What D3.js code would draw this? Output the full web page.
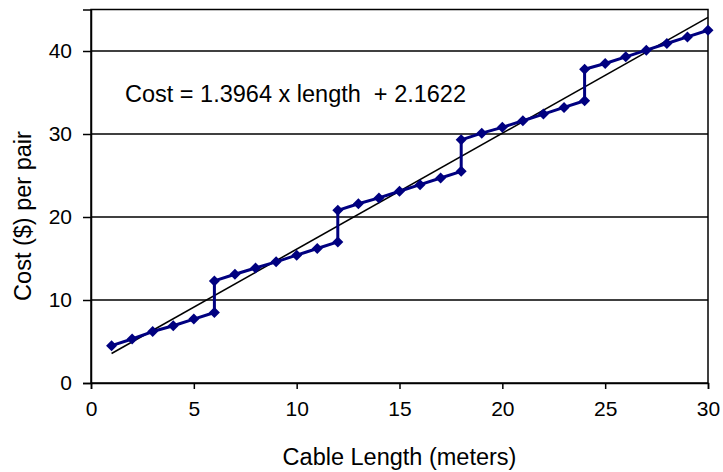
<!DOCTYPE html>
<html>
<head>
<meta charset="utf-8">
<script src="https://cdn.jsdelivr.net/npm/d3@7"></script>
<style>
  html, body { margin: 0; padding: 0; background: #fff; }
  svg { display: block; font-family: "Liberation Sans", Arial, sans-serif; }
</style>
</head>
<body>
<svg id="chart" width="723" height="472"></svg>
<script>
// Cable length (m) and cost per pair ($); the steps at 6, 12, 18, 24 m
// carry two readings each (before and after the jump).
const lengths = [1, 2, 3, 4, 5, 6, 6, 7, 8, 9, 10, 11, 12, 12, 13, 14, 15, 16, 17, 18, 18,
                 19, 20, 21, 22, 23, 24, 24, 25, 26, 27, 28, 29, 30];
const costs   = [4.5, 5.3, 6.2, 6.9, 7.7, 8.5, 12.3, 13.1, 13.85, 14.6, 15.4, 16.2, 17.0, 20.8,
                 21.6, 22.3, 23.1, 23.9, 24.7, 25.5, 29.3, 30.1, 30.8, 31.6, 32.4, 33.2, 34.0,
                 37.8, 38.5, 39.3, 40.1, 40.9, 41.7, 42.5];
const xTicks = [0, 5, 10, 15, 20, 25, 30];
const yTicks = [0, 10, 20, 30, 40];
const slope = 1.3964;
const intercept = 2.1622;
const fitLabel = "Cost = 1.3964 x length  + 2.1622";
const xTitle = "Cable Length (meters)";
const yTitle = "Cost ($) per pair";

const svg = d3.select("#chart");
const plot = { left: 91, right: 708, top: 9.5, bottom: 383 };

const x = d3.scaleLinear().domain([0, 30]).range([plot.left, plot.right]);
const y = d3.scaleLinear().domain([0, 45]).range([plot.bottom, plot.top]);

// horizontal gridlines
svg.append("g")
  .selectAll("line")
  .data(yTicks.filter(d => d > 0))
  .join("line")
  .attr("x1", plot.left).attr("x2", plot.right)
  .attr("y1", d => y(d)).attr("y2", d => y(d))
  .attr("stroke", "#000").attr("stroke-width", 1.3);

// plot frame
svg.append("rect")
  .attr("x", plot.left).attr("y", plot.top)
  .attr("width", plot.right - plot.left).attr("height", plot.bottom - plot.top)
  .attr("fill", "none").attr("stroke", "#000").attr("stroke-width", 1.5);

// axes
const tickFont = 21;
const titleFont = 23.5;
const xAxis = svg.append("g")
  .attr("transform", `translate(0,${plot.bottom})`)
  .call(d3.axisBottom(x).tickValues(xTicks).tickSize(6).tickPadding(12).tickFormat(d3.format("d")));
const yAxis = svg.append("g")
  .attr("transform", `translate(${plot.left},0)`)
  .call(d3.axisLeft(y).tickValues(yTicks).tickSize(8).tickPadding(11).tickFormat(d3.format("d")));
[xAxis, yAxis].forEach(g => {
  g.select(".domain").attr("stroke", "#000").attr("stroke-width", 1.5);
  g.selectAll(".tick line").attr("stroke", "#000").attr("stroke-width", 1.5);
  g.selectAll(".tick text")
    .attr("fill", "#000")
    .style("font-family", '"Liberation Sans", Arial, sans-serif')
    .style("font-size", tickFont + "px");
});

// least-squares trend line from the stated equation
svg.append("line")
  .attr("x1", x(1)).attr("y1", y(slope * 1 + intercept))
  .attr("x2", x(30)).attr("y2", y(slope * 30 + intercept))
  .attr("stroke", "#000").attr("stroke-width", 1.6);

// cost series
const pts = lengths.map((l, i) => [l, costs[i]]);
svg.append("path")
  .datum(pts)
  .attr("fill", "none")
  .attr("stroke", "#000080")
  .attr("stroke-width", 3)
  .attr("stroke-linejoin", "round")
  .attr("d", d3.line().x(d => x(d[0])).y(d => y(d[1])));

const diamond = "M0,-5.5 L5.5,0 L0,5.5 L-5.5,0 Z";
svg.append("g")
  .selectAll("path")
  .data(pts)
  .join("path")
  .attr("transform", d => `translate(${x(d[0])},${y(d[1])})`)
  .attr("d", diamond)
  .attr("fill", "#000080");

// equation label
svg.append("text")
  .attr("x", 125).attr("y", 102)
  .attr("font-size", titleFont)
  .attr("fill", "#000")
  .style("white-space", "pre")
  .attr("xml:space", "preserve")
  .text(fitLabel);

// axis titles
svg.append("text")
  .attr("x", (plot.left + plot.right) / 2).attr("y", 465)
  .attr("text-anchor", "middle")
  .attr("font-size", titleFont)
  .text(xTitle);

svg.append("text")
  .attr("transform", "translate(31,216) rotate(-90)")
  .attr("text-anchor", "middle")
  .attr("font-size", titleFont)
  .text(yTitle);
</script>
</body>
</html>
